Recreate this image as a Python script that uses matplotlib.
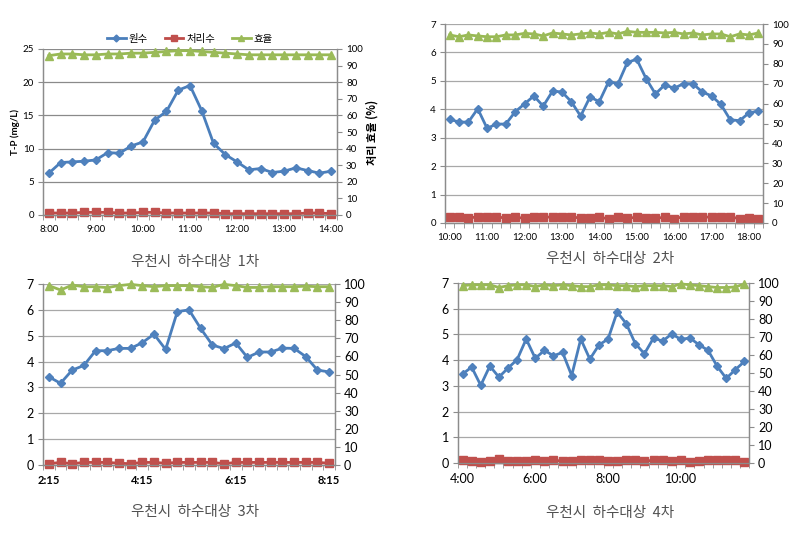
import matplotlib
matplotlib.use("Agg")
import matplotlib.pyplot as plt
import numpy as np
from matplotlib.lines import Line2D

plt.rcParams['font.family'] = ['Lato', 'Noto Sans CJK KR', 'DejaVu Sans']

# ---------------- data ----------------
# Panel 1 (8:00-14:00, 15 min)
p1_labels = ["8:00", "9:00", "10:00", "11:00", "12:00", "13:00", "14:00"]
p1_raw = [6.3, 7.9, 8.0, 8.1, 8.3, 9.4, 9.3, 10.4, 11.0, 14.3, 15.6, 18.8, 19.5,
          15.7, 10.8, 9.1, 8.0, 6.8, 7.0, 6.4, 6.6, 7.1, 6.7, 6.3, 6.6]
p1_treated = [0.3, 0.3, 0.3, 0.4, 0.4, 0.4, 0.3, 0.3, 0.4, 0.4, 0.3, 0.3, 0.3,
              0.3, 0.3, 0.2, 0.2, 0.2, 0.2, 0.2, 0.2, 0.2, 0.3, 0.3, 0.2]
p1_eff = [96.0, 97.0, 97.0, 96.5, 96.5, 97.0, 97.0, 97.5, 97.5, 98.0, 98.5, 99.0, 99.0,
          98.5, 98.0, 97.5, 97.0, 96.5, 96.5, 96.5, 96.5, 96.5, 96.5, 96.5, 96.5]

# Panel 2 (10:00-18:15, 15 min)
p2_labels = ["10:00", "11:00", "12:00", "13:00", "14:00", "15:00", "16:00", "17:00", "18:00"]
p2_raw = [3.65, 3.55, 3.55, 4.02, 3.33, 3.48, 3.48, 3.91, 4.19, 4.47, 4.11, 4.64, 4.61,
          4.27, 3.76, 4.43, 4.27, 4.97, 4.90, 5.65, 5.76, 5.08, 4.54, 4.86, 4.74, 4.90,
          4.90, 4.61, 4.47, 4.17, 3.63, 3.60, 3.87, 3.94]
p2_treated = [0.20, 0.22, 0.17, 0.22, 0.20, 0.22, 0.17, 0.20, 0.17, 0.22, 0.22, 0.20,
              0.22, 0.22, 0.17, 0.17, 0.20, 0.15, 0.22, 0.17, 0.20, 0.17, 0.17, 0.20,
              0.15, 0.22, 0.22, 0.22, 0.20, 0.20, 0.22, 0.15, 0.17, 0.15]
p2_eff = [94.5, 93.6, 94.5, 94.0, 93.6, 93.6, 94.5, 94.5, 95.3, 95.0, 94.0, 95.5, 95.0,
          94.5, 95.0, 95.5, 95.0, 95.8, 95.0, 96.3, 95.8, 95.8, 95.8, 95.5, 95.8, 95.0,
          95.5, 94.5, 95.0, 95.0, 93.6, 95.0, 94.5, 95.5]

# Panel 3 (2:15-8:15, 15 min)
p3_labels = ["2:15", "4:15", "6:15", "8:15"]
p3_raw = [3.41, 3.16, 3.67, 3.85, 4.42, 4.42, 4.51, 4.51, 4.73, 5.06, 4.47, 5.93, 6.0,
          5.28, 4.64, 4.50, 4.72, 4.16, 4.37, 4.37, 4.52, 4.51, 4.19, 3.67, 3.60]
p3_treated = [0.05, 0.10, 0.05, 0.10, 0.10, 0.10, 0.07, 0.05, 0.10, 0.10, 0.07, 0.10,
              0.10, 0.10, 0.10, 0.05, 0.10, 0.10, 0.10, 0.10, 0.10, 0.10, 0.10, 0.10, 0.07]
p3_eff = [99.1, 96.7, 99.4, 98.5, 98.5, 98.0, 99.1, 99.8, 99.1, 98.5, 99.1, 99.1, 99.1,
          98.5, 98.1, 99.8, 99.1, 98.1, 98.1, 98.5, 98.5, 98.5, 98.8, 98.5, 98.5]

# Panel 4 (4:00-11:45, 15 min)
p4_labels = ["4:00", "6:00", "8:00", "10:00"]
p4_raw = [3.46, 3.73, 3.02, 3.77, 3.34, 3.69, 4.02, 4.82, 4.07, 4.38, 4.17, 4.30, 3.40,
          4.82, 4.04, 4.59, 4.82, 5.87, 5.42, 4.64, 4.25, 4.86, 4.74, 5.02, 4.81, 4.86,
          4.60, 4.38, 3.76, 3.29, 3.63, 3.95]
p4_treated = [0.10, 0.08, 0.05, 0.08, 0.15, 0.08, 0.08, 0.08, 0.10, 0.08, 0.10, 0.08,
              0.08, 0.10, 0.10, 0.10, 0.08, 0.08, 0.10, 0.10, 0.08, 0.10, 0.10, 0.08,
              0.10, 0.05, 0.08, 0.10, 0.12, 0.12, 0.10, 0.05]
p4_eff = [98.5, 99.0, 99.0, 99.0, 97.5, 98.5, 99.0, 99.0, 98.0, 99.0, 98.5, 99.0, 98.5,
          98.0, 98.0, 99.0, 99.0, 98.5, 98.5, 98.0, 98.5, 98.5, 98.5, 98.0, 99.5, 99.0,
          98.5, 98.0, 97.5, 97.5, 97.8, 99.5]

series_names = ["원수", "처리수", "효율"]
captions = ["우천시  하수대상  1차", "우천시  하수대상  2차", "우천시  하수대상  3차", "우천시  하수대상  4차"]

# ---------------- styling ----------------
BLUE_L, BLUE_M = "#4A7EBB", "#4F81BD"
RED_L, RED_M = "#BE4B48", "#C0504D"
GRN_L, GRN_M = "#98B954", "#9BBB59"

W, H = 792, 533
fig = plt.figure(figsize=(W / 100, H / 100), dpi=100)


def box(l, r, t, b):
    return [l / W, 1 - b / H, (r - l) / W, (b - t) / H]


panels = [
    dict(rect=box(43, 337, 49, 215), raw=p1_raw, tr=p1_treated, eff=p1_eff, labels=p1_labels,
         step=4, ymax=25, ystep=5, fs=7, xfs=7, xbold=False, grid="#8a8a8a", cap=(195, 262),
         legend=True, ylabels=True),
    dict(rect=box(445, 763, 24, 223), raw=p2_raw, tr=p2_treated, eff=p2_eff, labels=p2_labels,
         step=4, ymax=7, ystep=1, fs=7, xfs=7, xbold=False, grid="#a8a8a8", cap=(610, 259),
         legend=False, ylabels=False),
    dict(rect=box(43, 335, 284, 465), raw=p3_raw, tr=p3_treated, eff=p3_eff, labels=p3_labels,
         step=8, ymax=7, ystep=1, fs=9, xfs=8, xbold=True, grid="#a8a8a8", cap=(195, 512),
         legend=False, ylabels=False),
    dict(rect=box(458, 749, 283, 463), raw=p4_raw, tr=p4_treated, eff=p4_eff, labels=p4_labels,
         step=8, ymax=7, ystep=1, fs=9, xfs=9, xbold=False, grid="#a8a8a8", cap=(610, 513),
         legend=False, ylabels=False),
]

for i, p in enumerate(panels):
    ax = fig.add_axes(p["rect"])
    n = len(p["raw"])
    x = np.arange(n)
    ax.set_xlim(-0.5, n - 0.5)
    ax.set_ylim(0, p["ymax"])
    ax.set_yticks(np.arange(0, p["ymax"] + 0.001, p["ystep"]))
    ax.yaxis.grid(True, color=p["grid"], lw=0.9)
    ax.set_axisbelow(True)
    ax.spines["top"].set_visible(False)
    for s in ["left", "right", "bottom"]:
        ax.spines[s].set_color("#8c8c8c")
        ax.spines[s].set_linewidth(0.9)
    ax.set_xticks(x[::p["step"]])
    ax.set_xticklabels(p["labels"], fontweight="bold" if p["xbold"] else "normal")
    ax.set_xticks(np.arange(-0.5, n, 1), minor=True)
    ax.tick_params(axis="x", which="major", length=0, pad=7, labelsize=p["xfs"])
    ax.tick_params(axis="x", which="minor", length=3.5, color="#8c8c8c", direction="out")
    ax.tick_params(axis="y", which="major", length=3.5, color="#8c8c8c", labelsize=p["fs"], pad=3)

    ax.plot(x, p["raw"], color=BLUE_L, lw=2.0, marker="D", ms=4.2,
            mfc=BLUE_M, mec=BLUE_M, zorder=3)
    ax.plot(x, p["tr"], color=RED_L, lw=2.0, marker="s", ms=5.4,
            mfc=RED_M, mec=RED_M, zorder=3, clip_on=False)

    ax2 = ax.twinx()
    ax2.set_ylim(0, 100)
    ax2.set_yticks(np.arange(0, 101, 10))
    ax2.spines["top"].set_visible(False)
    for s in ["left", "right", "bottom"]:
        ax2.spines[s].set_color("#8c8c8c")
        ax2.spines[s].set_linewidth(0.9)
    ax2.tick_params(axis="y", length=3.5, color="#8c8c8c", labelsize=p["fs"], pad=3)
    ax2.plot(x, p["eff"], color=GRN_L, lw=2.0, marker="^", ms=5.5,
             mfc=GRN_M, mec=GRN_M, zorder=3, clip_on=False)

    if p["ylabels"]:
        ax.set_ylabel("T-P (mg/L)", fontsize=7, fontweight="bold", labelpad=2)
        ax2.set_ylabel("처리 효율 (%)", fontsize=8, fontweight="bold", labelpad=2,
                       family=["Noto Sans CJK KR", "DejaVu Sans"])
    if p["legend"]:
        h1 = Line2D([], [], color=BLUE_L, lw=2, marker="D", ms=3.5, mfc=BLUE_M, mec=BLUE_M)
        h2 = Line2D([], [], color=RED_L, lw=2, marker="s", ms=4.5, mfc=RED_M, mec=RED_M)
        h3 = Line2D([], [], color=GRN_L, lw=2, marker="^", ms=4.5, mfc=GRN_M, mec=GRN_M)
        ax2.legend([h1, h2, h3], series_names, loc="lower center",
                   bbox_to_anchor=(0.5, 1.0), ncol=3, frameon=False,
                   prop={"family": ["Noto Sans CJK KR", "DejaVu Sans"], "size": 7.5},
                   handlelength=1.8, handletextpad=0.3, columnspacing=1.6,
                   borderaxespad=0.1)

    cx, cy = p["cap"]
    fig.text(cx / W, 1 - cy / H, captions[i], ha="center", va="center", fontsize=10.5,
             color="#505050", family=["Noto Sans CJK KR", "DejaVu Sans"])

fig.savefig("out.png", dpi=100)
